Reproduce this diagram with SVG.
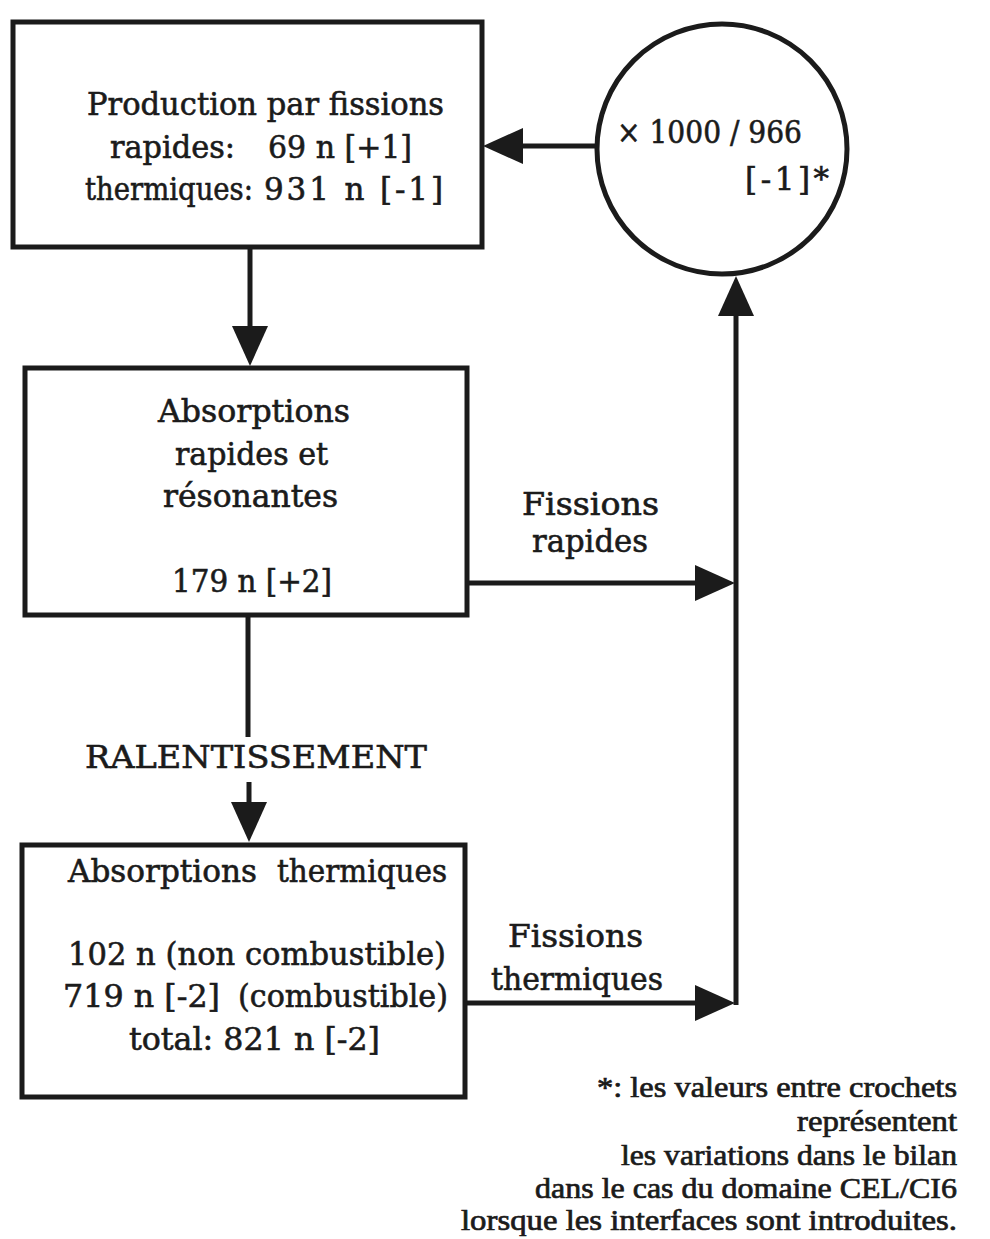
<svg xmlns="http://www.w3.org/2000/svg" width="990" height="1239" viewBox="0 0 990 1239">
  <style>
    .box { fill: #ffffff; stroke: #1b1b1b; stroke-width: 5; }
    .wire { fill: none; stroke: #1b1b1b; stroke-width: 5; }
    .t { font-family: "DejaVu Serif", "Liberation Serif", serif; font-size: 31px; fill: #1b1b1b; stroke: #1b1b1b; stroke-width: 0.6; }
    .note { font-family: "Liberation Serif", "DejaVu Serif", serif; font-size: 29px; fill: #1b1b1b; stroke: #1b1b1b; stroke-width: 0.7; }
  </style>
  <defs>
    <marker id="head" markerUnits="userSpaceOnUse" viewBox="0 0 40 36" refX="20" refY="18" markerWidth="40" markerHeight="36" orient="auto">
      <path d="M0,0 L40,18 L0,36 Z" fill="#1b1b1b"/>
    </marker>
  </defs>
  <rect width="990" height="1239" fill="#ffffff"/>

  <!-- connectors -->
  <g id="connectors">
    <line class="wire" x1="250" y1="247" x2="250" y2="346" marker-end="url(#head)"/>
    <line class="wire" x1="598" y1="146" x2="503" y2="146" marker-end="url(#head)"/>
    <line class="wire" x1="248" y1="615" x2="248" y2="737"/>
    <line class="wire" x1="249" y1="782" x2="249" y2="822" marker-end="url(#head)"/>
    <line class="wire" x1="365" y1="583" x2="715" y2="583" marker-end="url(#head)"/>
    <line class="wire" x1="448" y1="1003" x2="715" y2="1003" marker-end="url(#head)"/>
    <line class="wire" x1="736" y1="1005" x2="736" y2="296" marker-end="url(#head)"/>
  </g>

  <!-- fission production -->
  <g id="production">
    <rect class="box" x="13" y="22" width="469" height="225"/>
    <text class="t" x="87" y="115" textLength="357" lengthAdjust="spacingAndGlyphs">Production par fissions</text>
    <text class="t" x="110" y="158" textLength="125" lengthAdjust="spacingAndGlyphs">rapides:</text>
    <text class="t" x="268" y="158" textLength="144" lengthAdjust="spacingAndGlyphs">69 n [+1]</text>
    <text class="t" x="85" y="200" textLength="168" lengthAdjust="spacingAndGlyphs">thermiques:</text>
    <text class="t" x="264" y="200" textLength="179" lengthAdjust="spacing">931 n [-1]</text>
  </g>

  <!-- normalisation factor -->
  <g id="factor">
    <circle class="box" cx="722" cy="149" r="125"/>
    <text class="t" x="617" y="143" textLength="185" lengthAdjust="spacingAndGlyphs">× 1000 / 966</text>
    <text class="t" x="745" y="190" textLength="84" lengthAdjust="spacing">[-1]*</text>
  </g>

  <!-- fast and resonant absorptions -->
  <g id="fast-absorptions">
    <rect class="box" x="25" y="368" width="442" height="247"/>
    <text class="t" x="158" y="422" textLength="192" lengthAdjust="spacingAndGlyphs">Absorptions</text>
    <text class="t" x="175" y="465" textLength="153" lengthAdjust="spacingAndGlyphs">rapides et</text>
    <text class="t" x="163" y="507" textLength="175" lengthAdjust="spacingAndGlyphs">résonantes</text>
    <text class="t" x="172" y="592" textLength="160" lengthAdjust="spacingAndGlyphs">179 n [+2]</text>
  </g>

  <!-- slowing-down label -->
  <g id="slowing-down">
    <text class="t" x="85" y="768" textLength="342" lengthAdjust="spacingAndGlyphs">RALENTISSEMENT</text>
  </g>

  <!-- thermal absorptions -->
  <g id="thermal-absorptions">
    <rect class="box" x="22" y="845" width="443" height="252"/>
    <text class="t" x="68" y="882" textLength="189" lengthAdjust="spacingAndGlyphs">Absorptions</text>
    <text class="t" x="277" y="882" textLength="170" lengthAdjust="spacingAndGlyphs">thermiques</text>
    <text class="t" x="68" y="965" textLength="378" lengthAdjust="spacingAndGlyphs">102 n (non combustible)</text>
    <text class="t" x="63" y="1007" textLength="157" lengthAdjust="spacingAndGlyphs">719 n [-2]</text>
    <text class="t" x="238" y="1007" textLength="210" lengthAdjust="spacingAndGlyphs">(combustible)</text>
    <text class="t" x="129" y="1050" textLength="251" lengthAdjust="spacingAndGlyphs">total: 821 n [-2]</text>
  </g>

  <!-- edge labels -->
  <g id="fast-fission-label">
    <text class="t" x="522" y="515" textLength="137" lengthAdjust="spacingAndGlyphs">Fissions</text>
    <text class="t" x="532" y="552" textLength="116" lengthAdjust="spacingAndGlyphs">rapides</text>
  </g>
  <g id="thermal-fission-label">
    <text class="t" x="508" y="947" textLength="135" lengthAdjust="spacingAndGlyphs">Fissions</text>
    <text class="t" x="491" y="990" textLength="172" lengthAdjust="spacingAndGlyphs">thermiques</text>
  </g>

  <!-- footnote -->
  <g id="footnote" class="note" text-anchor="end">
    <text x="957" y="1097" textLength="360" lengthAdjust="spacingAndGlyphs">*: les valeurs entre crochets</text>
    <text x="957" y="1131" textLength="160" lengthAdjust="spacingAndGlyphs">représentent</text>
    <text x="957" y="1165" textLength="336" lengthAdjust="spacingAndGlyphs">les variations dans le bilan</text>
    <text x="957" y="1198" textLength="422" lengthAdjust="spacingAndGlyphs">dans le cas du domaine CEL/CI6</text>
    <text x="957" y="1230" textLength="496" lengthAdjust="spacingAndGlyphs">lorsque les interfaces sont introduites.</text>
  </g>
</svg>
